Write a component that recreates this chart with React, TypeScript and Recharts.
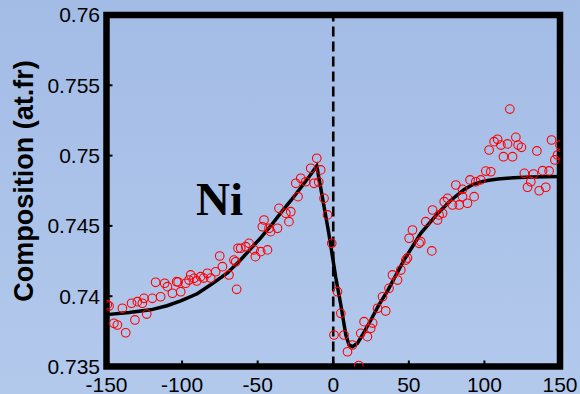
import React from 'react';
import { ComposedChart, XAxis, YAxis, Scatter, Line, ReferenceLine, ReferenceArea } from 'recharts';

const measuredX = [
  -149.5, -148.3, -145.1, -142.8, -137.3, -139.5, -131.2, -123.4, -133.4, -129.6,
  -125.2, -126.3, -119.7, -117.5, -114.2, -111.5, -109.7, -106.4, -103.6, -102.6,
  -100.9, -97.6, -95.4, -94.3, -92.1, -90.3, -87.7, -85.7, -83.3, -81.1,
  -77.8, -75.1, -73.3, -69.0, -63.9, -63.0, -64.5, -65.7, -61.2, -57.9,
  -55.7, -52.4, -51.5, -48.0, -43.5, -45.8, -46.9, -42.5, -41.4, -36.9,
  -35.9, -31.4, -28.1, -29.3, -24.8, -21.5, -18.2, -23.3, -14.9, -10.9,
  -8.3, -12.7, -9.6, -6.1, -3.8, -1.0, 2.8, 5.0, 0.5, 7.1,
  9.4, 12.7, 16.9, 18.2, 22.6, 20.4, 26.1, 29.3, 34.7, 32.6,
  36.9, 39.2, 42.5, 44.7, 48.0, 49.1, 50.2, 52.4, 56.8, 57.9,
  65.2, 61.2, 65.7, 69.0, 72.3, 75.6, 73.4, 70.0, 78.9, 83.3,
  88.8, 85.5, 93.2, 81.1, 85.5, 90.5, 94.3, 97.6, 100.9, 104.2,
  103.1, 106.4, 108.7, 110.9, 115.3, 116.8, 120.8, 122.3, 124.5, 112.6,
  118.6, 134.7, 144.4, 150.0, 148.4, 146.6, 126.4, 132.5, 138.5, 142.8,
  130.7, 128.5, 136.2, 140.6, 24.8,
];
const measuredY = [
  0.7394, 0.7393, 0.73807, 0.73795, 0.7374, 0.73914, 0.73831, 0.73873, 0.7395, 0.73961,
  0.73985, 0.7395, 0.73985, 0.74099, 0.73996, 0.74092, 0.74068, 0.74021, 0.74103, 0.74101,
  0.74032, 0.74092, 0.74115, 0.74151, 0.74127, 0.74108, 0.74139, 0.74129, 0.74163, 0.74129,
  0.74174, 0.74286, 0.7421, 0.74151, 0.74049, 0.74341, 0.74245, 0.74257, 0.74341, 0.74352,
  0.74376, 0.74329, 0.74281, 0.74317, 0.74329, 0.74542, 0.74494, 0.74483, 0.74459, 0.74483,
  0.74625, 0.7459, 0.74601, 0.7453, 0.74803, 0.74839, 0.74814, 0.74708, 0.7491, 0.74981,
  0.74898, 0.74803, 0.74812, 0.74696, 0.74578, 0.74376, 0.74032, 0.73878, 0.73724, 0.73724,
  0.73605, 0.73653, 0.73507, 0.73736, 0.73712, 0.73819, 0.73809, 0.73914, 0.73895, 0.73996,
  0.74056, 0.74151, 0.74115, 0.74186, 0.74257, 0.74272, 0.74412, 0.74471, 0.74376, 0.74388,
  0.74322, 0.7453, 0.74613, 0.74542, 0.7459, 0.74696, 0.74672, 0.74578, 0.74649, 0.74649,
  0.74661, 0.74708, 0.74708, 0.74791, 0.7476, 0.74827, 0.74814, 0.74827, 0.7489, 0.74885,
  0.7504, 0.75099, 0.75116, 0.75075, 0.75083, 0.75331, 0.7513, 0.75075, 0.75059, 0.74992,
  0.74992, 0.75033, 0.75111, 0.75075, 0.75004, 0.74969, 0.74874, 0.74869, 0.74893, 0.74891,
  0.74814, 0.74775, 0.7475, 0.74775, 0.73772,
];

const fitX = [
  -150, -135, -120.8, -110, -100.9, -90, -81.1, -70, -61.2, -55, -48, -41, -34.7, -28, -21.5, -16, -10.9,
  -3.0, 1.7, 5.0, 8.3, 10.5, 12.7, 16.0, 19.3, 24.8, 30, 36.1, 46.7, 57.9, 69.1, 77.7, 86.4, 92, 97.6,
  103, 108.9, 119.4, 130.7, 150,
];
const fitY = [
  0.73869, 0.73884, 0.73903, 0.73932, 0.73967, 0.74017, 0.74081, 0.74165, 0.74259, 0.74333, 0.74415,
  0.74505, 0.74593, 0.74681, 0.74771, 0.7485, 0.74927,
  0.74451, 0.74131, 0.73939, 0.73726, 0.73653, 0.73641, 0.73665, 0.73724, 0.73829, 0.73935, 0.74042,
  0.74255, 0.74447, 0.74589, 0.74681, 0.74757, 0.74792, 0.74813, 0.74825, 0.74833, 0.74842, 0.74847,
  0.74852,
];

const xTicks = [-150, -100, -50, 0, 50, 100, 150];
const yTicks = [0.735, 0.74, 0.745, 0.75, 0.755, 0.76];

const measured = measuredX.map((x, i) => ({ x, y: measuredY[i] }));
const fit = fitX.map((x, i) => ({ x, y: fitY[i] }));

const W = 580;
const H = 394;
const sans = '"Liberation Sans", Arial, sans-serif';

const Ring = (props: any) => (
  <circle cx={props.cx} cy={props.cy} r={4.3} fill="none" stroke="#ff0000" strokeWidth={1.1} />
);

const tickLineStyle = { stroke: '#000', strokeWidth: 2 };

export default function App() {
  return (
    <div
      style={{
        position: 'absolute',
        left: 0,
        top: 0,
        width: W,
        height: H,
        background: 'linear-gradient(#a3bce6, #b3c9ec)',
      }}
    >
      <ComposedChart width={W} height={H} margin={{ top: 15, right: 20, bottom: 0, left: 0 }}>
        <XAxis
          xAxisId="b"
          type="number"
          dataKey="x"
          domain={[-150, 150]}
          ticks={xTicks}
          allowDataOverflow
          interval={0}
          height={27.5}
          axisLine={false}
          tickLine={tickLineStyle}
          tickSize={-6}
          tickMargin={16.5}
          tick={{ fill: '#000', fontSize: 21, fontFamily: sans }}
        />
        <XAxis
          xAxisId="t"
          orientation="top"
          type="number"
          dataKey="x"
          domain={[-150, 150]}
          ticks={xTicks}
          allowDataOverflow
          interval={0}
          height={0}
          axisLine={false}
          tick={false}
          tickLine={tickLineStyle}
          tickSize={-6}
        />
        <YAxis
          yAxisId="l"
          type="number"
          domain={[0.735, 0.76]}
          ticks={yTicks}
          allowDataOverflow
          interval={0}
          width={106.5}
          axisLine={false}
          tickLine={tickLineStyle}
          tickSize={-6}
          tickMargin={12.5}
          tickFormatter={(v: number) => String(v)}
          tick={{ fill: '#000', fontSize: 21, fontFamily: sans }}
        />
        <YAxis
          yAxisId="r"
          orientation="right"
          type="number"
          domain={[0.735, 0.76]}
          ticks={yTicks}
          allowDataOverflow
          interval={0}
          width={0}
          axisLine={false}
          tick={false}
          tickLine={tickLineStyle}
          tickSize={-6}
        />
        <ReferenceArea
          xAxisId="b"
          yAxisId="l"
          x1={-150}
          x2={150}
          y1={0.735}
          y2={0.76}
          fill="none"
          fillOpacity={0}
          stroke="#000"
          strokeWidth={6.5}
          ifOverflow="visible"
        />
        <ReferenceLine
          xAxisId="b"
          yAxisId="l"
          x={0}
          stroke="#000"
          strokeWidth={2.6}
          strokeDasharray="10 5"
        />
        <Scatter
          xAxisId="b"
          yAxisId="l"
          data={measured}
          dataKey="y"
          shape={Ring}
          isAnimationActive={false}
        />
        <Line
          xAxisId="b"
          yAxisId="l"
          data={fit}
          dataKey="y"
          type="linear"
          stroke="#000"
          strokeWidth={3.5}
          dot={false}
          activeDot={false}
          isAnimationActive={false}
        />
      </ComposedChart>
      <svg
        width={W}
        height={H}
        style={{ position: 'absolute', left: 0, top: 0, pointerEvents: 'none' }}
      >
        <text
          x={33}
          y={181}
          transform="rotate(-90 33 181)"
          textAnchor="middle"
          fontFamily={sans}
          fontWeight="bold"
          fontSize={27}
          fill="#000"
        >
          Composition (at.fr)
        </text>
        <text
          x={196}
          y={215}
          fontFamily='"Liberation Serif", "Times New Roman", serif'
          fontWeight="bold"
          fontSize={47}
          fill="#000"
        >
          Ni
        </text>
      </svg>
    </div>
  );
}
